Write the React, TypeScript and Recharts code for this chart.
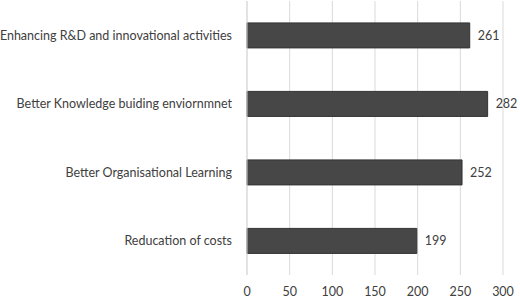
import { Bar, BarChart, CartesianGrid, LabelList, XAxis, YAxis } from "recharts";

const categories = [
  "Enhancing R&D and innovational activities",
  "Better Knowledge buiding enviornmnet",
  "Better Organisational Learning",
  "Reducation of costs",
];
const scores = [261, 282, 252, 199];
const xTicks = [0, 50, 100, 150, 200, 250, 300];

const data = categories.map((name, i) => ({ name, score: scores[i] }));

const font = "Lato, sans-serif";
const fontSize = 12.5;
const textColor = "#404040";

// single-line category label, right-aligned against the axis
function CategoryTick(props: any) {
  const { x, y, payload } = props;
  return (
    <text x={x} y={y} dy="0.35em" textAnchor="end" fill={textColor} fontSize={fontSize} fontFamily={font}>
      {payload.value}
    </text>
  );
}

export default function App() {
  return (
    <div style={{ position: "absolute", left: 0, top: 0, background: "#fff" }}>
      <BarChart
        width={520}
        height={299}
        data={data}
        layout="vertical"
        margin={{ top: 1, right: 17, bottom: 0, left: 0 }}
        barCategoryGap="32%"
      >
        <CartesianGrid horizontal={false} stroke="#d9d9d9" />
        <XAxis
          type="number"
          domain={[0, 300]}
          ticks={xTicks}
          axisLine={false}
          tickLine={false}
          height={24}
          tickMargin={6}
          tick={{ fill: textColor, fontSize, fontFamily: font }}
        />
        <YAxis
          type="category"
          dataKey="name"
          width={247}
          axisLine={{ stroke: "#d9d9d9" }}
          tickLine={false}
          tickMargin={9}
          tick={<CategoryTick />}
        />
        <Bar dataKey="score" fill="#474747" stroke="#333" strokeWidth={1} isAnimationActive={false}>
          <LabelList
            dataKey="score"
            position="right"
            offset={8}
            style={{ fill: textColor, fontSize, fontFamily: font }}
          />
        </Bar>
      </BarChart>
    </div>
  );
}
